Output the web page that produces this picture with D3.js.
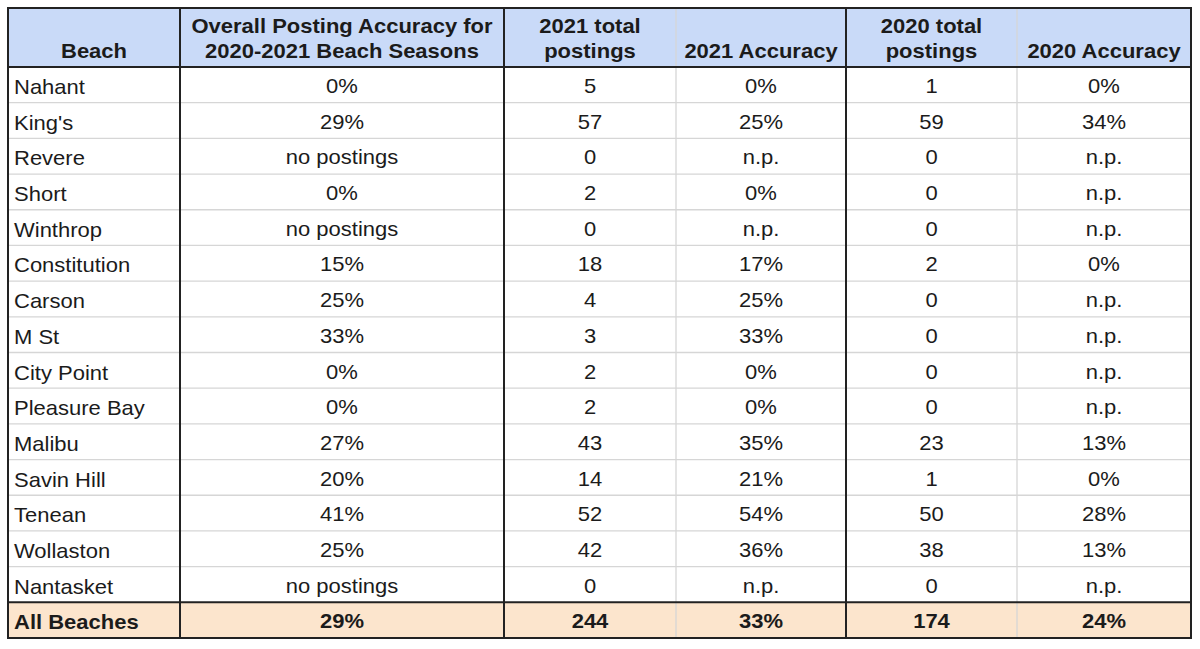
<!DOCTYPE html>
<meta charset="utf-8">
<script src="https://d3js.org/d3.v7.min.js"></script>
<style>
  body { margin: 0; background: #fff; }
  text { font-family: 'Liberation Sans', Arial, sans-serif; fill: #1b1b1b; }
</style>
<body>
<div id="my_table"></div>
<script>

// table data
var beaches = ["Nahant", "King's", "Revere", "Short", "Winthrop", "Constitution", "Carson", "M St",
  "City Point", "Pleasure Bay", "Malibu", "Savin Hill", "Tenean", "Wollaston", "Nantasket"];
var overall = ["0%", "29%", "no postings", "0%", "no postings", "15%", "25%", "33%",
  "0%", "0%", "27%", "20%", "41%", "25%", "no postings"];
var total2021 = [5, 57, 0, 2, 0, 18, 4, 3, 2, 2, 43, 14, 52, 42, 0];
var acc2021 = ["0%", "25%", "n.p.", "0%", "n.p.", "17%", "25%", "33%", "0%", "0%", "35%", "21%", "54%", "36%", "n.p."];
var total2020 = [1, 59, 0, 0, 0, 2, 0, 0, 0, 0, 23, 1, 50, 38, 0];
var acc2020 = ["0%", "34%", "n.p.", "n.p.", "n.p.", "0%", "n.p.", "n.p.", "n.p.", "n.p.", "13%", "0%", "28%", "13%", "n.p."];
var totalRow = ["All Beaches", "29%", "244", "33%", "174", "24%"];
var headers = [["Beach"], ["Overall Posting Accuracy for", "2020-2021 Beach Seasons"],
  ["2021 total", "postings"], ["2021 Accuracy"], ["2020 total", "postings"], ["2020 Accuracy"]];

// layout
var colEdges = [8, 180, 504, 676, 846, 1017, 1191];
var darkCols = [0, 1, 2, 4, 6];   // edges drawn dark
var tableTop = 8, headBottom = 67, tableBottom = 638;
var sx = 1.1; // source text looks slightly stretched

var svg = d3.select("#my_table").append("svg")
  .attr("width", 1200).attr("height", 649);

var rows = beaches.map(function(b, i) {
  return [b, overall[i], String(total2021[i]), acc2021[i], String(total2020[i]), acc2020[i]];
});
rows.push(totalRow);

var y = d3.scaleBand()
  .domain(d3.range(rows.length))
  .range([headBottom, tableBottom]);

var x0 = function(c) { return colEdges[c]; };
var xc = function(c) { return (colEdges[c] + colEdges[c + 1]) / 2; };

// backgrounds
svg.append("rect").attr("x", 8).attr("y", tableTop).attr("width", 1183).attr("height", headBottom - tableTop)
  .attr("fill", "#c9daf8");
svg.append("rect").attr("x", 8).attr("y", y(rows.length - 1)).attr("width", 1183).attr("height", y.bandwidth())
  .attr("fill", "#fce5cd");

// light grid lines
svg.selectAll(".hline").data(d3.range(1, rows.length - 1)).enter().append("line")
  .attr("x1", 8).attr("x2", 1191)
  .attr("y1", function(d) { return y(d); }).attr("y2", function(d) { return y(d); })
  .attr("stroke", "#d6d6d6").attr("stroke-width", 1.3);

svg.selectAll(".vline").data(d3.range(colEdges.length)).enter().append("line")
  .attr("x1", function(d) { return colEdges[d]; }).attr("x2", function(d) { return colEdges[d]; })
  .attr("y1", tableTop).attr("y2", tableBottom)
  .attr("stroke", function(d) { return darkCols.indexOf(d) >= 0 ? "#222" : "#d6d6d6"; })
  .attr("stroke-width", function(d) { return darkCols.indexOf(d) >= 0 ? 2 : 1.3; });

// dark horizontal rules
[tableTop, headBottom, y(rows.length - 1), tableBottom].forEach(function(v) {
  svg.append("line").attr("x1", 7).attr("x2", 1192).attr("y1", v).attr("y2", v)
    .attr("stroke", "#222").attr("stroke-width", 2);
});

function put(txt, px, py, anchor, bold) {
  svg.append("text")
    .attr("transform", "translate(" + px + "," + py + ") scale(" + sx + ",1)")
    .attr("text-anchor", anchor)
    .style("font-size", "20px")
    .style("font-weight", bold ? "bold" : "normal")
    .text(txt);
}

// header
headers.forEach(function(lines, c) {
  lines.forEach(function(l, k) {
    put(l, xc(c), 58 - (lines.length - 1 - k) * 25, "middle", true);
  });
});

// body
rows.forEach(function(r, i) {
  var bold = i === rows.length - 1;
  r.forEach(function(v, c) {
    if (c === 0) put(v, x0(0) + 6, y(i) + 27, "start", bold);
    else put(v, xc(c), y(i) + 26, "middle", bold);
  });
});

</script>
</body>
